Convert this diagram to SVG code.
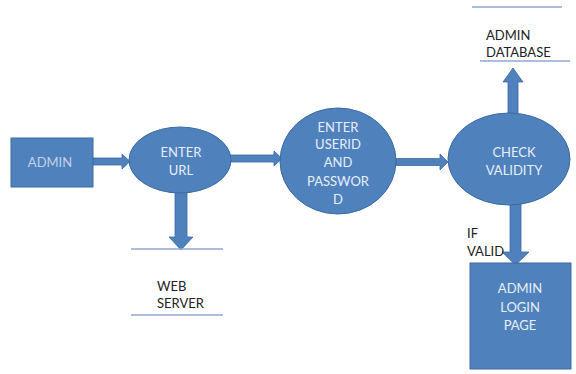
<svg xmlns="http://www.w3.org/2000/svg" width="576" height="374" viewBox="0 0 576 374">
<style>
.shape{fill:#4f81bd;stroke:#3b6aa3;stroke-width:1}
.arrow{fill:#4f81bd;stroke:#3b6aa3;stroke-width:0.8}
.lbl{font-family:Lato,"Liberation Sans",sans-serif;font-size:13px;fill:#e8eef7;text-anchor:middle}
.dark{font-family:Lato,"Liberation Sans",sans-serif;font-size:13px;fill:#222}
.store{stroke:#8fa9cf;stroke-width:1.5}
</style>
<rect width="576" height="374" fill="#ffffff"/>
<g id="connectors">
<path class="arrow" d="M93,158 H122 V154 L130,161.5 L122,169 V165 H93 Z"/>
<path class="arrow" d="M230,155 H274 V151 L282,158.5 L274,166 V162 H230 Z"/>
<path class="arrow" d="M396,158.5 H440 V154 L448,162 L440,170 V165.5 H396 Z"/>
<path class="arrow" d="M175,192 V237 H169 L181,250 L193,237 H187 V192 Z"/>
<path class="arrow" d="M508,114 V82 H503 L513,68 L523,82 H518 V114 Z"/>
<path class="arrow" d="M510,203 V252 H502 L515.5,265 L529,252 H521 V203 Z"/>
</g>
<g id="admin">
<rect class="shape" x="11" y="138" width="82" height="49"/>
<text class="lbl" x="50" y="167" style="fill:#c3d1e7">ADMIN</text>
</g>
<g id="enter-url">
<ellipse class="shape" cx="180" cy="160" rx="51" ry="33"/>
<text class="lbl" x="181" y="157">ENTER</text>
<text class="lbl" x="181" y="175">URL</text>
</g>
<g id="web-server">
<line class="store" x1="131" y1="249" x2="223" y2="249"/>
<line class="store" x1="131" y1="315" x2="223" y2="315"/>
<text class="dark" x="157" y="291">WEB</text>
<text class="dark" x="157" y="308">SERVER</text>
</g>
<g id="enter-userid">
<ellipse class="shape" cx="338" cy="161" rx="58" ry="53"/>
<text class="lbl" x="338" y="132">ENTER</text>
<text class="lbl" x="338" y="149">USERID</text>
<text class="lbl" x="338" y="167">AND</text>
<text class="lbl" x="338" y="186">PASSWOR</text>
<text class="lbl" x="338" y="204">D</text>
</g>
<g id="check-validity">
<ellipse class="shape" cx="509" cy="159" rx="61" ry="46"/>
<text class="lbl" x="514" y="157">CHECK</text>
<text class="lbl" x="514" y="175">VALIDITY</text>
</g>
<g id="admin-database">
<line class="store" x1="472" y1="7" x2="562" y2="7"/>
<line class="store" x1="480" y1="61" x2="570" y2="61"/>
<text class="dark" x="486" y="40">ADMIN</text>
<text class="dark" x="486" y="57">DATABASE</text>
</g>
<g id="if-valid">
<text class="dark" x="467" y="238">IF</text>
<text class="dark" x="467" y="256">VALID</text>
</g>
<g id="admin-login-page">
<rect class="shape" x="470" y="263" width="101" height="106"/>
<text class="lbl" x="520" y="293">ADMIN</text>
<text class="lbl" x="520" y="312">LOGIN</text>
<text class="lbl" x="520" y="330">PAGE</text>
</g>
</svg>
